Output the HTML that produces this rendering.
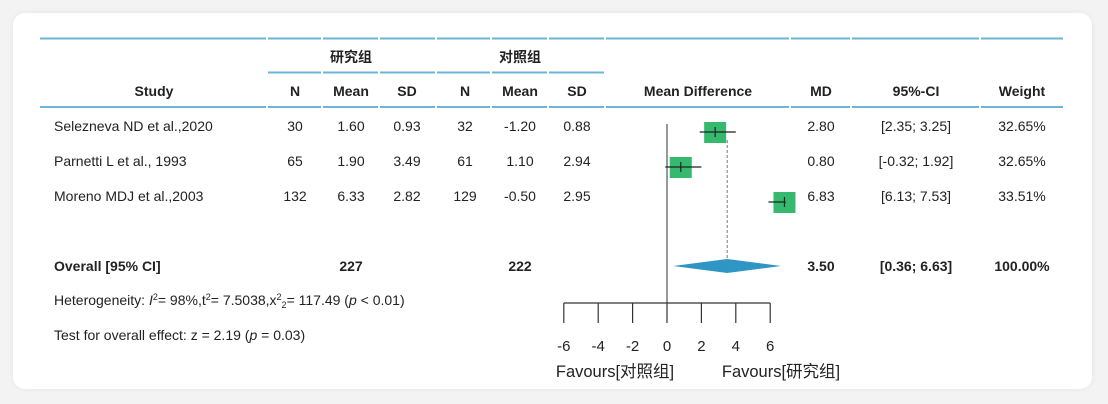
<!DOCTYPE html>
<html><head><meta charset="utf-8"><style>
html,body{margin:0;padding:0;}
body{width:1108px;height:404px;background:#f3f3f3;position:relative;overflow:hidden;font-family:"Liberation Sans","Noto Sans CJK SC",sans-serif;}
.card{position:absolute;left:13px;top:13px;width:1079px;height:376px;background:#fff;border-radius:12px;box-shadow:0 0 6px rgba(0,0,0,0.06);}
svg{position:absolute;left:0;top:0;}
text{font-family:"Liberation Sans","Noto Sans CJK SC",sans-serif;font-size:14px;fill:#222;}
.b{font-weight:bold;}
</style></head><body>
<div class="card"></div>
<svg id="chart" width="1108" height="404"></svg>
<script>
const studies=["Selezneva ND et al.,2020","Parnetti L et al., 1993","Moreno MDJ et al.,2003"];
const expN=[30,65,132];
const expMean=["1.60","1.90","6.33"];
const expSD=["0.93","3.49","2.82"];
const ctlN=[32,61,129];
const ctlMean=["-1.20","1.10","-0.50"];
const ctlSD=["0.88","2.94","2.95"];
const md=[2.80,0.80,6.83];
const ciText=["[2.35; 3.25]","[-0.32; 1.92]","[6.13; 7.53]"];
const weight=["32.65%","32.65%","33.51%"];
const plotLo=[1.9,-0.1,5.9];
const plotHi=[4.0,2.0,6.9];
const overall={md:3.50,lo:0.36,hi:6.63,ci:"[0.36; 6.63]",w:"100.00%",n1:227,n2:222};
const ticks=[-6,-4,-2,0,2,4,6];

const NS="http://www.w3.org/2000/svg";
const svg=document.getElementById('chart');
function mk(tag,attrs,txt){const e=document.createElementNS(NS,tag);for(const k in attrs)e.setAttribute(k,attrs[k]);if(txt!==undefined)e.textContent=txt;svg.appendChild(e);return e;}
const x0=667, ppu=17.2;
function X(v){return x0+v*ppu;}
const rowY=[126,161,196];

const segs=[[40,266],[268,321],[323,378],[380,435],[437,490],[492,547],[549,604],[606,789],[791,850],[852,979],[981,1063]];
segs.forEach(s=>{
  let l=mk('line',{x1:s[0],x2:s[1],y1:38.5,y2:38.5,stroke:'#6cb5d9','stroke-width':2});
  
  let l2=mk('line',{x1:s[0],x2:s[1],y1:107,y2:107,stroke:'#6cb5d9','stroke-width':2});
  
});
[[268,321],[323,378],[380,435],[437,490],[492,547],[549,604]].forEach(s=>{
  let l=mk('line',{x1:s[0],x2:s[1],y1:72.5,y2:72.5,stroke:'#6cb5d9','stroke-width':2});
  
});
function T(x,y,s,anchor,cls,name){const t=mk('text',{x:x,y:y,'text-anchor':anchor||'start'},s);if(cls)t.setAttribute('class',cls);

return t;}
T(351,62,'研究组','middle','b','group-header-experimental');
T(520,62,'对照组','middle','b','group-header-control');
const hy=96;
T(154,hy,'Study','middle','b','study-header');
[[295,'N'],[351,'Mean'],[407,'SD'],[465,'N'],[520,'Mean'],[577,'SD'],[698,'Mean Difference'],[821,'MD'],[916,'95%-CI'],[1022,'Weight']].forEach(h=>T(h[0],hy,h[1],'middle','b','column-header'));

studies.forEach((s,i)=>{
  const y=rowY[i]+5;
  T(54,y,s,'start',null,'study-name');
  T(295,y,expN[i],'middle',null,'exp-n');
  T(351,y,expMean[i],'middle',null,'exp-mean');
  T(407,y,expSD[i],'middle',null,'exp-sd');
  T(465,y,ctlN[i],'middle',null,'ctl-n');
  T(520,y,ctlMean[i],'middle',null,'ctl-mean');
  T(577,y,ctlSD[i],'middle',null,'ctl-sd');
  T(821,y,md[i].toFixed(2),'middle',null,'md-value');
  T(916,y,ciText[i],'middle',null,'ci-value');
  T(1022,y,weight[i],'middle',null,'weight-value');
});
const oy=271;
T(54,oy,'Overall [95% CI]','start','b','overall-label');
T(351,oy,overall.n1,'middle','b','overall-exp-n');
T(520,oy,overall.n2,'middle','b','overall-ctl-n');
T(821,oy,overall.md.toFixed(2),'middle','b','overall-md');
T(916,oy,overall.ci,'middle','b','overall-ci');
T(1022,oy,overall.w,'middle','b','overall-weight');
const het=mk('text',{x:54,y:305});

het.innerHTML='Heterogeneity: <tspan font-style="italic">I</tspan><tspan style="font-size:9px" dy="-5">2</tspan><tspan dy="5">= 98%,t</tspan><tspan style="font-size:9px" dy="-5">2</tspan><tspan dy="5">= 7.5038,x</tspan><tspan style="font-size:9px" dy="-5">2</tspan><tspan style="font-size:9px" dy="8">2</tspan><tspan dy="-3">= 117.49 (</tspan><tspan font-style="italic">p</tspan> &lt; 0.01)';
const te=mk('text',{x:54,y:340});

te.innerHTML='Test for overall effect: z = 2.19 (<tspan font-style="italic">p</tspan> = 0.03)';

let z=mk('line',{x1:X(0),x2:X(0),y1:124,y2:303,stroke:'#555','stroke-width':1.2});

let d=mk('line',{x1:X(overall.md),x2:X(overall.md),y1:140,y2:262,stroke:'#777','stroke-width':1,'stroke-dasharray':'3,2'});

let ax=mk('line',{x1:X(ticks[0]),x2:X(ticks[ticks.length-1]),y1:303,y2:303,stroke:'#333','stroke-width':1.2});

ticks.forEach(t=>{
  let l=mk('line',{x1:X(t),x2:X(t),y1:303,y2:323,stroke:'#333','stroke-width':1.2});
  
  const tl=T(X(t),351,t,'middle',null,'x-tick-label');
  tl.style.fontSize='15px';
});
const f1=T(615,377,'Favours[对照组]','middle',null,'favours-control-label');
f1.style.fontSize='16.5px';
const f2=T(781,377,'Favours[研究组]','middle',null,'favours-experimental-label');
f2.style.fontSize='16.5px';
md.forEach((v,i)=>{
  const y=rowY[i]+6;
  let sq=mk('rect',{x:X(v)-11,y:y-10,width:22,height:21,fill:'#34b96e'});
  
  let ci=mk('line',{x1:X(plotLo[i]),x2:X(plotHi[i]),y1:y,y2:y,stroke:'#222','stroke-width':1.2});
  
  let tk=mk('line',{x1:X(v),x2:X(v),y1:y-5,y2:y+5,stroke:'#222','stroke-width':1.2});
  
});
const dy=266;
let dm=mk('polygon',{points:`${X(overall.lo)},${dy} ${X(overall.md)},${dy-7} ${X(overall.hi)},${dy} ${X(overall.md)},${dy+7}`,fill:'#2f95c4'});

</script>
</body></html>
